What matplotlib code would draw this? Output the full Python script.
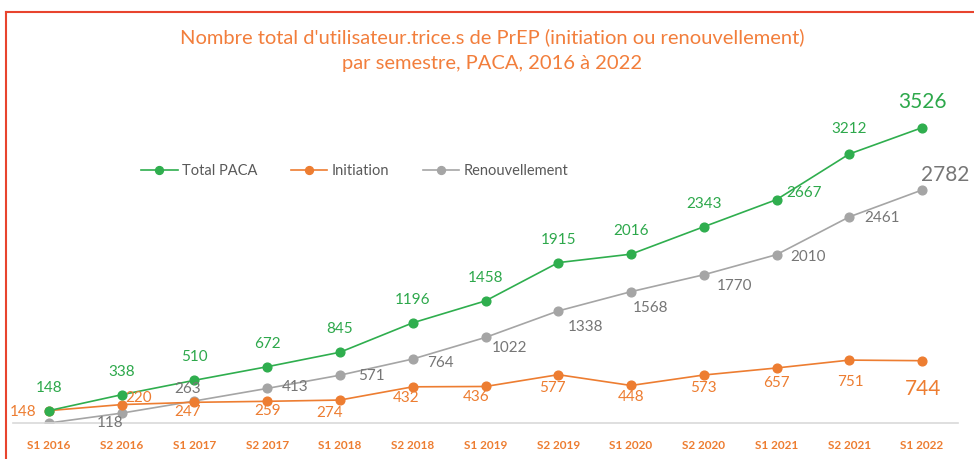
import matplotlib
matplotlib.use("Agg")
import matplotlib.pyplot as plt
from matplotlib.lines import Line2D

categories = ["S1 2016", "S2 2016", "S1 2017", "S2 2017", "S1 2018", "S2 2018",
              "S1 2019", "S2 2019", "S1 2020", "S2 2020", "S1 2021", "S2 2021", "S1 2022"]
total = [148, 338, 510, 672, 845, 1196, 1458, 1915, 2016, 2343, 2667, 3212, 3526]
initiation = [148, 220, 247, 259, 274, 432, 436, 577, 448, 573, 657, 751, 744]
renouvellement = [0, 118, 263, 413, 571, 764, 1022, 1338, 1568, 1770, 2010, 2461, 2782]

GREEN = "#2FAE4E"
ORANGE = "#ED7D31"
GRAY = "#A5A5A5"
GREEN_T = "#2DA84B"
ORANGE_T = "#ED7D31"
GRAY_T = "#767676"
TITLE_C = "#F27E3C"
BORDER_C = "#E8442E"

plt.rcParams['font.family'] = ['Lato', 'DejaVu Sans']

# label centre offsets in pixels (dx right, dy up) -- styling only
tot_off = [(0, 23)] * 10 + [(28, 7), (0, 25), (0, 26)]
ini_off = [(-26, -1), (17, 7), (-7, -10), (0, -10), (-10, -13), (-7, -11), (-9, -11),
           (-6, -13), (0, -12), (0, -13), (0, -15), (1, -22), (1, -28)]
ren_off = [None, (-12, -10), (-7, 12), (28, 1), (31, -1), (28, -4), (24, -11),
           (27, -16), (20, -16), (31, -11), (32, -2), (33, -1), (23, 15)]

fig = plt.figure(figsize=(9.74, 4.59), dpi=100)
fig.patch.set_facecolor("white")
ax = fig.add_axes([12.6 / 974, 36 / 459, 945.8 / 974, 335 / 459])
ax.set_xlim(-0.5, 12.5)
ax.set_ylim(0, 4000)

x = list(range(len(categories)))
ax.plot(x, total, color=GREEN, lw=1.2, marker="o", ms=6.3, label="Total PACA", zorder=4)
ax.plot(x, initiation, color=ORANGE, lw=1.2, marker="o", ms=6.3, label="Initiation", zorder=3)
ax.plot(x, renouvellement, color=GRAY, lw=1.2, marker="o", ms=6.3, label="Renouvellement", zorder=2)

PX = 0.72
last = len(x) - 1
for series, offs, col in [(total, tot_off, GREEN_T), (initiation, ini_off, ORANGE_T),
                          (renouvellement, ren_off, GRAY_T)]:
    for i in x:
        if offs[i] is None:
            continue
        dx, dy = offs[i]
        ax.annotate(str(series[i]), (i, series[i]), xytext=(dx * PX, dy * PX),
                    textcoords="offset points", ha="center", va="center", color=col,
                    fontsize=15 if i == last else 11, zorder=6)

for s in ["top", "right", "left"]:
    ax.spines[s].set_visible(False)
ax.spines["bottom"].set_color("#D9D9D9")
ax.spines["bottom"].set_linewidth(1.2)
ax.set_yticks([])
ax.set_xticks(x)
ax.set_xticklabels(categories, color=ORANGE, fontsize=8.5, fontweight="bold")
ax.tick_params(axis="x", length=0, pad=12)

leg = ax.legend(loc="upper left", frameon=False,
                ncol=3, fontsize=10.5, handlelength=2.5, columnspacing=2.3, handletextpad=0.3,
                labelcolor="#595959", markerscale=0.9)
leg.set_bbox_to_anchor((128 / 974, 1 - 151 / 459), transform=fig.transFigure)

fig.text(492 / 974, 1 - 37 / 459, "Nombre total d'utilisateur.trice.s de PrEP (initiation ou renouvellement)",
         ha="center", va="center", color=TITLE_C, fontsize=14.5)
fig.text(492 / 974, 1 - 64 / 459, "par semestre, PACA, 2016 à 2022",
         ha="center", va="center", color=TITLE_C, fontsize=14.5)

fig.add_artist(Line2D([6 / 974, 6 / 974], [0, 1 - 12 / 459], transform=fig.transFigure, color=BORDER_C, lw=1.5))
fig.add_artist(Line2D([6 / 974, 1], [1 - 12 / 459, 1 - 12 / 459], transform=fig.transFigure, color=BORDER_C, lw=1.5))

fig.savefig("out.png", dpi=100)
